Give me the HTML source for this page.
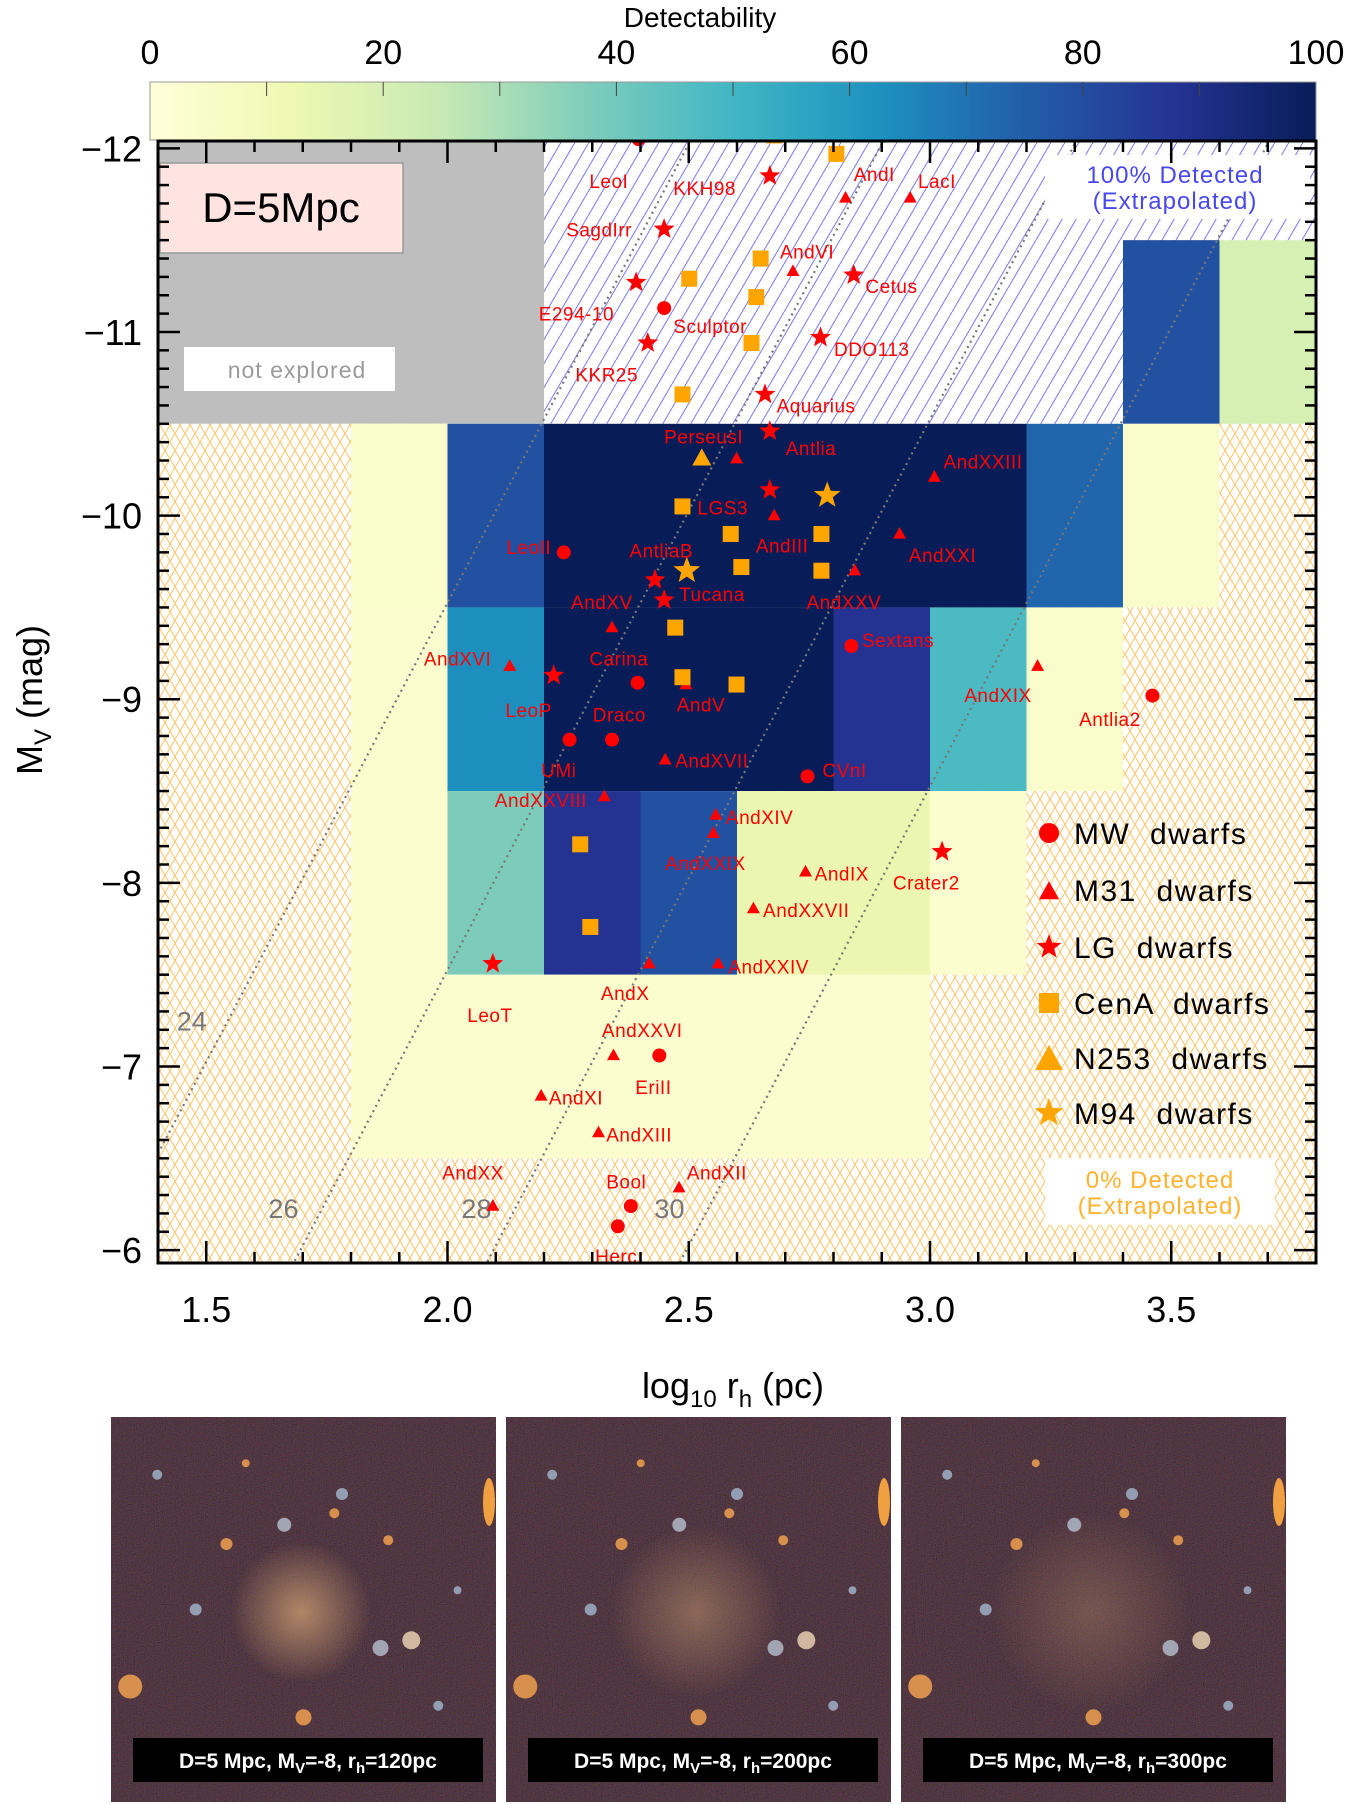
<!DOCTYPE html>
<html><head><meta charset="utf-8">
<style>
html,body{margin:0;padding:0;background:#fff;width:1350px;height:1804px;overflow:hidden;}
svg{display:block;font-family:"Liberation Sans",sans-serif;}
</style></head>
<body>
<svg id="fig" width="1350" height="1804" viewBox="0 0 1350 1804" xmlns="http://www.w3.org/2000/svg">
<defs>
  <linearGradient id="cmap" x1="0" x2="1" y1="0" y2="0">
    <stop offset="0" stop-color="#ffffd9"/><stop offset="0.125" stop-color="#edf8b1"/>
    <stop offset="0.25" stop-color="#c7e9b4"/><stop offset="0.375" stop-color="#7fcdbb"/>
    <stop offset="0.5" stop-color="#41b6c4"/><stop offset="0.625" stop-color="#1d91c0"/>
    <stop offset="0.75" stop-color="#225ea8"/><stop offset="0.875" stop-color="#253494"/>
    <stop offset="1" stop-color="#081d58"/>
  </linearGradient>
  <pattern id="blueHatch" patternUnits="userSpaceOnUse" width="14" height="24">
    <rect width="14" height="24" fill="#fff"/>
    <line x1="0" y1="24" x2="14" y2="0" stroke="#7a7af0" stroke-width="1"/>
    <line x1="-14" y1="24" x2="0" y2="0" stroke="#7a7af0" stroke-width="1"/>
    <line x1="14" y1="24" x2="28" y2="0" stroke="#7a7af0" stroke-width="1"/>
  </pattern>
  <pattern id="orangeHatch" patternUnits="userSpaceOnUse" width="10" height="17">
    <rect width="10" height="17" fill="#fff"/>
    <line x1="0" y1="17" x2="10" y2="0" stroke="#ffc56a" stroke-width="1"/>
    <line x1="0" y1="0" x2="10" y2="17" stroke="#ffc56a" stroke-width="1"/>
  </pattern>
  <clipPath id="plotClip"><rect x="158" y="141" width="1158" height="1122"/></clipPath>
  <radialGradient id="glow" cx="0.5" cy="0.5" r="0.5">
    <stop offset="0" stop-color="#c89a70" stop-opacity="0.9"/>
    <stop offset="1" stop-color="#c89a70" stop-opacity="0"/>
  </radialGradient>
  <filter id="noise" x="0" y="0" width="100%" height="100%">
    <feTurbulence type="fractalNoise" baseFrequency="0.9" numOctaves="1" seed="3" result="n"/>
    <feColorMatrix type="matrix" values="1.0 0 0 0 -0.25  0 0.4 0 0 -0.1  0 0 1.0 0 -0.3  0 0 0 0 0.3"/>
  </filter>
</defs>

<g>
  <text x="700" y="27" font-size="28" text-anchor="middle">Detectability</text>
  <rect x="150" y="82" width="1166" height="58" fill="url(#cmap)" stroke="#999" stroke-width="1"/>
  <g id="cbticks"></g>
</g>

<g id="plot"></g>
<g id="panels"></g>
</svg>

<script>
const NS="http://www.w3.org/2000/svg";
// ---- data ----
const cbTicks=[0,20,40,60,80,100];
const xTicks=[1.5,2.0,2.5,3.0,3.5];
const yTicks=[-12,-11,-10,-9,-8,-7,-6];
const sbLevels=[24,26,28,30];
const sbLabels=["24","26","28","30"];
const cellX0=[3.4,3.6, 1.8,2.0,2.2,3.2,3.4, 1.8,2.0,2.2,2.8,3.0,3.2, 1.8,2.0,2.2,2.4,2.6,3.0, 1.8];
const cellX1=[3.6,3.8, 2.0,2.2,3.2,3.4,3.6, 2.0,2.2,2.8,3.0,3.2,3.4, 2.0,2.2,2.4,2.6,3.0,3.2, 3.0];
const cellY0=[-11.5,-11.5, -10.5,-10.5,-10.5,-10.5,-10.5, -9.5,-9.5,-9.5,-9.5,-9.5,-9.5, -8.5,-8.5,-8.5,-8.5,-8.5,-8.5, -7.5];
const cellY1=[-10.5,-10.5, -9.5,-9.5,-9.5,-9.5,-9.5, -8.5,-8.5,-8.5,-8.5,-8.5,-8.5, -7.5,-7.5,-7.5,-7.5,-7.5,-7.5, -6.5];
const cellVal=[79,20, 4,79,100,73,4, 3,63,100,88,48,4, 3,38,88,79,13,3, 3];

const mwX=[2.396,2.449,2.241,2.394,2.253,2.341,2.837,2.746,3.461,2.439,2.380,2.353];
const mwY=[-12.05,-11.13,-9.80,-9.09,-8.78,-8.78,-9.29,-8.58,-9.02,-7.06,-6.24,-6.13];
const m31X=[2.825,2.959,2.716,2.599,2.677,2.937,2.844,3.009,2.341,2.129,2.494,2.451,2.325,2.556,2.551,2.742,2.634,2.418,2.561,3.223,2.344,2.194,2.313,2.094,2.480];
const m31Y=[-11.73,-11.73,-11.33,-10.31,-10.0,-9.90,-9.70,-10.21,-9.39,-9.18,-9.08,-8.67,-8.47,-8.37,-8.27,-8.06,-7.86,-7.56,-7.56,-9.18,-7.06,-6.84,-6.64,-6.24,-6.34];
const lgX=[2.668,2.449,2.391,2.842,2.415,2.773,2.658,2.668,2.668,2.430,2.449,2.220,3.025,2.094];
const lgY=[-11.85,-11.56,-11.27,-11.31,-10.94,-10.97,-10.66,-10.46,-10.14,-9.65,-9.54,-9.13,-8.17,-7.56];
const cenX=[2.677,2.806,2.649,2.501,2.640,2.630,2.487,2.487,2.587,2.609,2.775,2.775,2.472,2.487,2.599,2.275,2.296];
const cenY=[-12.07,-11.97,-11.40,-11.29,-11.19,-10.94,-10.66,-10.05,-9.90,-9.72,-9.90,-9.70,-9.39,-9.12,-9.08,-8.21,-7.76];
const n253X=[2.527]; const n253Y=[-10.31];
const m94X=[2.787,2.496]; const m94Y=[-10.11,-9.70];

const labelNames=["LeoI","KKH98","AndI","LacI","SagdIrr","AndVI","Cetus","E294-10","Sculptor","DDO113","KKR25","Aquarius","PerseusI","Antlia","AndXXIII","LGS3","LeoII","AntliaB","AndIII","AndXXI","AndXV","Tucana","AndXXV","Sextans","AndXVI","Carina","AndV","LeoP","Draco","AndXIX","Antlia2","AndXVII","CVnI","UMi","AndXXVIII","AndXIV","AndXXIX","AndIX","Crater2","AndXXVII","AndXXIV","AndX","LeoT","AndXXVI","EriII","AndXI","AndXIII","AndXX","AndXII","Bool","Herc"];
const labelX=[2.294,2.468,2.842,2.975,2.246,2.689,2.866,2.189,2.468,2.801,2.265,2.682,2.449,2.701,3.028,2.518,2.122,2.377,2.639,2.956,2.256,2.480,2.744,2.859,1.951,2.294,2.475,2.120,2.301,3.071,3.309,2.472,2.777,2.194,2.098,2.577,2.451,2.761,2.923,2.654,2.582,2.318,2.041,2.320,2.389,2.210,2.329,1.989,2.496,2.329,2.306];
const labelY=[-11.783,-11.746,-11.821,-11.783,-11.520,-11.401,-11.213,-11.063,-10.994,-10.869,-10.731,-10.562,-10.393,-10.331,-10.256,-10.005,-9.792,-9.773,-9.798,-9.748,-9.491,-9.535,-9.491,-9.285,-9.185,-9.185,-8.934,-8.903,-8.878,-8.984,-8.853,-8.627,-8.577,-8.577,-8.414,-8.320,-8.070,-8.014,-7.964,-7.813,-7.507,-7.362,-7.243,-7.162,-6.849,-6.793,-6.592,-6.386,-6.386,-6.336,-5.929];

// ---- scales ----
const PX0=158,PX1=1316,PY0=141,PY1=1263;
const XMIN=1.4,XMAX=3.8,YTOP=-12.04,YBOT=-5.93;
const X=v=>PX0+(v-XMIN)/(XMAX-XMIN)*(PX1-PX0);
const Y=v=>PY0+(v-YTOP)/(YBOT-YTOP)*(PY1-PY0);
const stops=[[255,255,217],[237,248,177],[199,233,180],[127,205,187],[65,182,196],[29,145,192],[34,94,168],[37,52,148],[8,29,88]];
function cmap(v){const t=Math.max(0,Math.min(1,v/100))*8;const i=Math.min(7,Math.floor(t)),f=t-i;
 const c=stops[i].map((a,k)=>Math.round(a+(stops[i+1][k]-a)*f));return `rgb(${c.join(',')})`;}
function el(tag,attrs,parent){const e=document.createElementNS(NS,tag);for(const k in attrs)e.setAttribute(k,attrs[k]);parent.appendChild(e);return e;}

const cbt=document.getElementById('cbticks');
cbTicks.forEach(t=>{const x=150+t/100*1166;
 const tx=el('text',{x:x,y:64,'font-size':34,'text-anchor':'middle'},cbt);tx.textContent=t;
 
 
});
for(let t=10;t<100;t+=10){const x=150+t/100*1166;el('line',{x1:x,x2:x,y1:82,y2:96,stroke:'#444','stroke-width':1},cbt);}

const P=document.getElementById('plot');
const clipG=el('g',{'clip-path':'url(#plotClip)'},P);
const bgGray=el('rect',{x:X(1.4),y:Y(YTOP),width:X(2.2)-X(1.4),height:Y(-10.5)-Y(YTOP),fill:'#bebebe'},clipG);


const bgBlue=el('rect',{x:X(2.2),y:Y(YTOP),width:X(3.8)-X(2.2),height:Y(-10.5)-Y(YTOP),fill:'url(#blueHatch)'},clipG);


const bgOr=el('rect',{x:X(1.4),y:Y(-10.5),width:X(3.8)-X(1.4),height:Y(YBOT)-Y(-10.5),fill:'url(#orangeHatch)'},clipG);


cellVal.forEach((v,i)=>{
 const r=el('rect',{x:X(cellX0[i]),y:Y(cellY0[i]),width:X(cellX1[i])-X(cellX0[i]),height:Y(cellY1[i])-Y(cellY0[i]),fill:cmap(v)},clipG);
 
 
});
sbLevels.forEach(sb=>{const c=0.475+(sb-24);
 const ln=el('line',{x1:X(XMIN),y1:Y(c-5*XMIN),x2:X(XMAX),y2:Y(c-5*XMAX),stroke:'#777','stroke-width':2.2,'stroke-dasharray':'2 4'},clipG);
 
 
});
const sbPos=[[1.47,-7.25],[1.66,-6.23],[2.06,-6.23],[2.46,-6.23]];
sbLabels.forEach((s,i)=>{const t=el('text',{x:X(sbPos[i][0]),y:Y(sbPos[i][1])+10,'font-size':27,fill:'#777','text-anchor':'middle'},clipG);t.textContent=s;
 
 
});

function box(name,x,y,w,h,fill,stroke){const r=el('rect',{x:x,y:y,width:w,height:h,fill:fill,stroke:stroke||'none','stroke-width':1.5},P);
 
 return r;}
box('distance-box',160,163,243,90,'#ffe4e1','#999');
let t=el('text',{x:281,y:222,'font-size':42,'text-anchor':'middle'},P);t.textContent='D=5Mpc';

box('not-explored-box',184,347,211,44,'#fff');
t=el('text',{x:297,y:378,'font-size':23,'text-anchor':'middle',fill:'#9a9a9a','letter-spacing':'1'},P);t.textContent='not explored';

box('detected-100-box',1045,155,265,64,'#fff');
t=el('text',{x:1175,y:183,'font-size':24,'text-anchor':'middle',fill:'#4848ee','letter-spacing':'1'},P);t.textContent='100% Detected';

t=el('text',{x:1175,y:209,'font-size':24,'text-anchor':'middle',fill:'#4848ee','letter-spacing':'1'},P);t.textContent='(Extrapolated)';

box('detected-0-box',1045,1158,230,67,'#fff');
t=el('text',{x:1160,y:1188,'font-size':24,'text-anchor':'middle',fill:'#ffb22e','letter-spacing':'1'},P);t.textContent='0% Detected';

t=el('text',{x:1160,y:1214,'font-size':24,'text-anchor':'middle',fill:'#ffb22e','letter-spacing':'1'},P);t.textContent='(Extrapolated)';


const mk=el('g',{'clip-path':'url(#plotClip)'},P);
function circle(x,y,r,c,g){return el('circle',{cx:x,cy:y,r:r,fill:c},g);}
function tri(x,y,s,c,g){const h=s*0.9;return el('polygon',{points:`${x},${y-h*0.6} ${x-s/2},${y+h*0.4} ${x+s/2},${y+h*0.4}`,fill:c},g);}
function star(x,y,R,c,g){let p=[];for(let i=0;i<10;i++){const a=-Math.PI/2+i*Math.PI/5,r=i%2?R*0.42:R;p.push((x+r*Math.cos(a)).toFixed(1)+','+(y+r*Math.sin(a)).toFixed(1));}return el('polygon',{points:p.join(' '),fill:c},g);}
function sq(x,y,s,c,g){return el('rect',{x:x-s/2,y:y-s/2,width:s,height:s,fill:c},g);}
mwX.forEach((v,i)=>{const m=circle(X(v),Y(mwY[i]),7,'#f00',mk);});
m31X.forEach((v,i)=>{const m=tri(X(v),Y(m31Y[i]),13,'#f00',mk);});
lgX.forEach((v,i)=>{const m=star(X(v),Y(lgY[i]),11,'#f00',mk);});
cenX.forEach((v,i)=>{const m=sq(X(v),Y(cenY[i]),16,'#ffa500',mk);});
n253X.forEach((v,i)=>{const m=tri(X(v),Y(n253Y[i]),19,'#ffa500',mk);});
m94X.forEach((v,i)=>{const m=star(X(v),Y(m94Y[i]),14,'#ffa500',mk);});
labelNames.forEach((n,i)=>{const tx=el('text',{x:X(labelX[i]),y:Y(labelY[i]),'font-size':19,fill:'#f00','letter-spacing':'0.5'},mk);tx.textContent=n;
 
 
});

const legNames=["MW  dwarfs","M31  dwarfs","LG  dwarfs","CenA  dwarfs","N253  dwarfs","M94  dwarfs"];
const legY=[833,890,947,1003,1058,1113];
const LG=el('g',{},P);
legNames.forEach((n,i)=>{const y=legY[i],x=1049;let m;
 if(i==0)m=circle(x,y,10,'#f00',LG);else if(i==1)m=tri(x,y+2,20,'#f00',LG);else if(i==2)m=star(x,y,13,'#f00',LG);
 else if(i==3)m=sq(x,y,20,'#ffa500',LG);else if(i==4)m=tri(x,y+2,28,'#ffa500',LG);else m=star(x,y,15,'#ffa500',LG);
 
 const tx=el('text',{x:1074,y:y+11,'font-size':30,'letter-spacing':'1.5',style:'white-space:pre'},LG);tx.textContent=n;
 
});

const ax=el('g',{},P);
el('rect',{x:PX0,y:PY0,width:PX1-PX0,height:PY1-PY0,fill:'none',stroke:'#000','stroke-width':3},ax);
for(let k=14;k<=38;k++){const v=k/10,x=X(v),maj=(k%5==0),L=maj?22:11;
 el('line',{x1:x,x2:x,y1:PY1,y2:PY1-L,stroke:'#000','stroke-width':2.5},ax);
 el('line',{x1:x,x2:x,y1:PY0,y2:PY0+L,stroke:'#000','stroke-width':2.5},ax);}
for(let k=-120;k<=-60;k++){const v=k/10,y=Y(v),maj=(k%10==0),L=maj?22:11;
 el('line',{x1:PX0,x2:PX0+L,y1:y,y2:y,stroke:'#000','stroke-width':2.5},ax);
 el('line',{x1:PX1,x2:PX1-L,y1:y,y2:y,stroke:'#000','stroke-width':2.5},ax);}
xTicks.forEach(v=>{const tx=el('text',{x:X(v),y:1322,'font-size':36,'text-anchor':'middle'},ax);tx.textContent=v.toFixed(1);
 });
yTicks.forEach(v=>{const tx=el('text',{x:142,y:Y(v)+13,'font-size':36,'text-anchor':'end'},ax);tx.textContent='\u2212'+Math.abs(v);
 });
let xt=el('text',{x:733,y:1398,'font-size':36,'text-anchor':'middle'},ax);
xt.innerHTML='log<tspan font-size="24" dy="9">10</tspan><tspan dy="-9"> r</tspan><tspan font-size="24" dy="9">h</tspan><tspan dy="-9"> (pc)</tspan>';

let yt=el('text',{x:0,y:0,'font-size':36,'text-anchor':'middle',transform:'translate(42,700) rotate(-90)'},ax);
yt.innerHTML='M<tspan font-size="24" dy="9">V</tspan><tspan dy="-9"> (mag)</tspan>';


const PN=document.getElementById('panels');
const panelX=[111,506,901];const rhs=["120","200","300"];const glowR=[70,85,100];const glowA=[0.9,0.55,0.35];
const blobs=[[0.12,0.15,5,'#9fb0c8'],[0.6,0.2,6,'#9fb0c8'],[0.58,0.25,5,'#f0a050'],[0.45,0.28,7,'#b0b8c8'],[0.3,0.33,6,'#f0a050'],[0.72,0.32,5,'#f0a050'],[0.22,0.5,6,'#9fb0c8'],[0.78,0.58,9,'#e8d0b0'],[0.7,0.6,8,'#b0b8c8'],[0.05,0.7,12,'#f0a050'],[0.5,0.78,8,'#f0a050'],[0.85,0.75,5,'#9fb0c8'],[0.35,0.12,4,'#f0a050'],[0.9,0.45,4,'#9fb0c8']];
panelX.forEach((px,i)=>{const g=el('g',{},PN);
 el('rect',{x:px,y:1417,width:385,height:385,fill:'#3a292b'},g);
 el('rect',{x:px,y:1417,width:385,height:385,fill:'#fff',filter:'url(#noise)'},g);
 el('ellipse',{cx:px+190,cy:1417+195,rx:glowR[i],ry:glowR[i],fill:'url(#glow)',opacity:glowA[i]},g);
 blobs.forEach(b=>el('ellipse',{cx:px+b[0]*385,cy:1417+b[1]*385,rx:b[2],ry:b[2],fill:b[3],opacity:0.85},g));
 el('ellipse',{cx:px+378,cy:1417+85,rx:6,ry:24,fill:'#f0a040'},g);
 el('rect',{x:px+22,y:1738,width:350,height:44,fill:'#000'},g);
 const tx=el('text',{x:px+197,y:1768,'font-size':21,'font-weight':'bold',fill:'#fff','text-anchor':'middle'},g);
 tx.innerHTML='D=5 Mpc, M<tspan font-size="15" dy="5">V</tspan><tspan dy="-5">=-8, r</tspan><tspan font-size="15" dy="5">h</tspan><tspan dy="-5">='+rhs[i]+'pc</tspan>';
 
});
</script>
</body></html>
